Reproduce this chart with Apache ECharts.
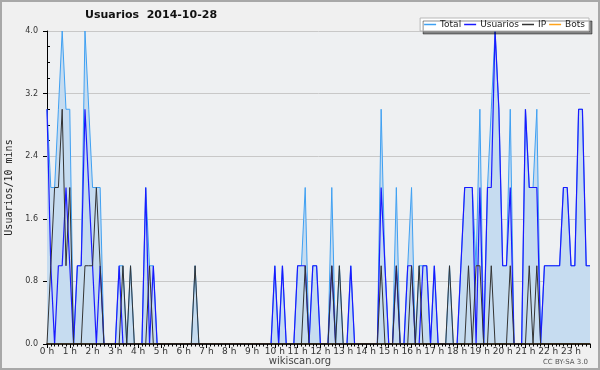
<!DOCTYPE html>
<html>
<head>
<meta charset="utf-8">
<script src="https://cdn.jsdelivr.net/npm/echarts@6/dist/echarts.min.js"></script>
<style>
  html, body { margin: 0; padding: 0; background: #f0f0f0; }
  #chart { width: 600px; height: 370px; }
</style>
</head>
<body>
<div id="chart"></div>
<script>
// one value every 10 minutes, 144 per day
const hourLabels = ['0 h', '1 h', '2 h', '3 h', '4 h', '5 h', '6 h', '7 h', '8 h', '9 h', '10 h', '11 h',
  '12 h', '13 h', '14 h', '15 h', '16 h', '17 h', '18 h', '19 h', '20 h', '21 h', '22 h', '23 h'];
const yLabels = ['0.0', '0.8', '1.6', '2.4', '3.2', '4.0'];

const total = [
  3, 2, 2, 3, 4, 3, 3, 0, 1, 1, 4, 3,
  2, 2, 2, 0, 0, 0, 0, 1, 1, 0, 1, 0,
  0, 0, 2, 1, 1, 0, 0, 0, 0, 0, 0, 0,
  0, 0, 0, 1, 0, 0, 0, 0, 0, 0, 0, 0,
  0, 0, 0, 0, 0, 0, 0, 0, 0, 0, 0, 0,
  1, 0, 1, 0, 0, 0, 1, 1, 2, 0, 1, 1,
  0, 0, 0, 2, 0, 1, 0, 0, 1, 0, 0, 0,
  0, 0, 0, 0, 3, 1, 0, 0, 2, 0, 0, 1,
  2, 0, 1, 1, 1, 0, 1, 0, 0, 0, 1, 0,
  0, 1, 2, 2, 2, 1, 3, 0, 2, 3, 4, 3,
  1, 1, 3, 0, 0, 0, 3, 2, 2, 3, 0, 1,
  1, 1, 1, 1, 2, 2, 1, 1, 3, 3, 1, 1
];
const usuarios = [
  3, 1, 0, 1, 1, 2, 1, 0, 1, 1, 3, 2,
  1, 0, 1, 0, 0, 0, 0, 1, 0, 0, 0, 0,
  0, 0, 2, 0, 1, 0, 0, 0, 0, 0, 0, 0,
  0, 0, 0, 0, 0, 0, 0, 0, 0, 0, 0, 0,
  0, 0, 0, 0, 0, 0, 0, 0, 0, 0, 0, 0,
  1, 0, 1, 0, 0, 0, 1, 1, 1, 0, 1, 1,
  0, 0, 0, 1, 0, 0, 0, 0, 1, 0, 0, 0,
  0, 0, 0, 0, 2, 1, 0, 0, 1, 0, 0, 1,
  1, 0, 0, 1, 1, 0, 1, 0, 0, 0, 0, 0,
  0, 1, 2, 2, 2, 0, 2, 0, 2, 2, 4, 3,
  1, 1, 2, 0, 0, 0, 3, 2, 2, 2, 0, 1,
  1, 1, 1, 1, 2, 2, 1, 1, 3, 3, 1, 1
];
const ip = [
  0, 1, 2, 2, 3, 1, 2, 0, 0, 0, 1, 1,
  1, 2, 1, 0, 0, 0, 0, 0, 1, 0, 1, 0,
  0, 0, 0, 1, 0, 0, 0, 0, 0, 0, 0, 0,
  0, 0, 0, 1, 0, 0, 0, 0, 0, 0, 0, 0,
  0, 0, 0, 0, 0, 0, 0, 0, 0, 0, 0, 0,
  0, 0, 0, 0, 0, 0, 0, 0, 1, 0, 0, 0,
  0, 0, 0, 1, 0, 1, 0, 0, 0, 0, 0, 0,
  0, 0, 0, 0, 1, 0, 0, 0, 1, 0, 0, 0,
  1, 0, 1, 0, 0, 0, 0, 0, 0, 0, 1, 0,
  0, 0, 0, 1, 0, 1, 1, 0, 0, 1, 0, 0,
  0, 0, 1, 0, 0, 0, 0, 1, 0, 1, 0, 0,
  0, 0, 0, 0, 0, 0, 0, 0, 0, 0, 0, 0
];
const bots = total.map(() => 0);

const pts = arr => arr.map((v, i) => [i, v]);

const chart = echarts.init(document.getElementById('chart'));

chart.setOption({
  backgroundColor: '#f0f0f0',
  animation: false,
  title: {
    text: 'Usuarios  2014-10-28',
    left: 85,
    top: 10,
    padding: 0,
    textStyle: { fontFamily: 'DejaVu Sans', fontSize: 11, fontWeight: 'bold', color: '#111' }
  },
  legend: {
    right: 11,
    top: 18,
    padding: [2, 4, 2, 4],
    itemGap: 3,
    itemWidth: 12,
    itemHeight: 1.5,
    backgroundColor: '#ffffff',
    borderColor: '#b8b8b8',
    borderWidth: 1,
    shadowColor: 'rgba(0,0,0,0.45)',
    shadowOffsetX: 3,
    shadowOffsetY: 3,
    shadowBlur: 0,
    textStyle: { fontFamily: 'DejaVu Sans', fontSize: 9, color: '#222', padding: [0, 0, 0, -1] },
    data: [
      { name: 'Total', icon: 'rect' },
      { name: 'Usuarios', icon: 'rect' },
      { name: 'IP', icon: 'rect' },
      { name: 'Bots', icon: 'rect' }
    ]
  },
  grid: {
    left: 47, right: 10, top: 31, bottom: 26,
    containLabel: false,
    outerBoundsMode: 'none',
    show: true, backgroundColor: '#eef0f2', borderWidth: 0
  },
  xAxis: {
    type: 'value',
    min: 0,
    max: 143,
    interval: 6,
    z: 5,
    axisLine: { lineStyle: { color: '#000', width: 1.5 } },
    axisTick: { length: 4, lineStyle: { color: '#000' } },
    minorTick: { show: true, splitNumber: 6, length: 2.5, lineStyle: { color: '#000' } },
    splitLine: { show: false },
    axisLabel: {
      margin: 3,
      fontFamily: 'DejaVu Sans', fontSize: 9, color: '#333',
      formatter: v => (v % 6 === 0 ? hourLabels[v / 6] : '')
    }
  },
  yAxis: {
    type: 'value',
    min: 0,
    max: 4,
    interval: 0.8,
    name: 'Usuarios/10 mins',
    nameLocation: 'middle',
    nameRotate: 90,
    nameGap: 32,
    nameTextStyle: { fontFamily: 'DejaVu Sans Mono', fontSize: 10, color: '#222' },
    axisLine: { show: true, lineStyle: { color: '#000' } },
    axisTick: { show: true, length: 4, lineStyle: { color: '#000' } },
    minorTick: { show: true, splitNumber: 4, length: -3, lineStyle: { color: '#000' } },
    splitLine: { lineStyle: { color: '#c8c8c8', width: 1 } },
    axisLabel: {
      margin: 9,
      fontFamily: 'DejaVu Sans', fontSize: 8, color: '#333',
      formatter: v => yLabels[Math.round(v / 0.8)]
    }
  },
  series: [
    {
      name: 'Total', type: 'line', data: pts(total), color: '#3fa0f2',
      symbol: 'none', lineStyle: { width: 1, color: '#3fa0f2' },
      areaStyle: { color: '#c6dcf0', opacity: 1 }
    },
    {
      name: 'Usuarios', type: 'line', data: pts(usuarios), color: '#1a1aff',
      symbol: 'none', lineStyle: { width: 1.2, color: '#1a1aff' }
    },
    {
      name: 'IP', type: 'line', data: pts(ip), color: '#333333',
      symbol: 'none', lineStyle: { width: 1, color: '#333333' }
    },
    {
      name: 'Bots', type: 'line', data: pts(bots), color: '#ffa31a',
      symbol: 'none', lineStyle: { width: 1, color: '#ffa31a' }
    }
  ],
  graphic: [
    {
      type: 'rect', silent: true, z: 100,
      shape: { x: 1, y: 1, width: 598, height: 368 },
      style: { fill: 'none', stroke: '#a8a8a8', lineWidth: 2 }
    },
    {
      type: 'text', silent: true,
      style: { text: 'wikiscan.org', x: 300, y: 361, align: 'center', verticalAlign: 'middle',
        font: '10px "DejaVu Sans"', fill: '#444' }
    },
    {
      type: 'text', silent: true,
      style: { text: 'CC BY-SA 3.0', x: 588, y: 362, align: 'right', verticalAlign: 'middle',
        font: '7px "DejaVu Sans"', fill: '#555' }
    }
  ]
});

window.addEventListener('resize', () => chart.resize());
</script>
</body>
</html>
